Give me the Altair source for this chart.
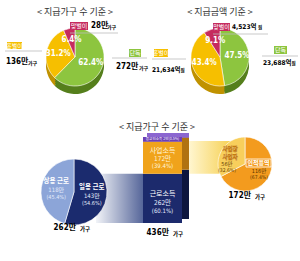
import altair as alt
import pandas as pd

KR = "Noto Sans CJK KR"
NUM = "'DejaVu Sans Condensed', 'Noto Sans CJK KR'"

# ---- data ----
hh_types = ["단독", "홑벌이", "맞벌이"]
hh_pct = [62.4, 31.2, 6.4]          # 지급가구 수 기준 (%)
hh_count = [272, 136, 28]           # 만 가구

amt_pct = [47.5, 43.4, 9.1]         # 지급금액 기준 (%)
amt_value = ["23,688", "21,634", "4,523"]  # 억원

inc_types = ["근로소득", "사업소득", "종교인소득"]
inc_count = [262, 172, 2]           # 만 가구
inc_pct = [60.1, 39.4, 0.5]
inc_total = 436

work_types = ["일용 근로", "상용 근로"]
work_count = [143, 118]
work_pct = [54.6, 45.4]
work_total = 262

biz_types = ["인적용역", "사업장 사업자"]
biz_count = [116, 56]
biz_pct = [67.4, 32.6]
biz_total = 172

# ---- styles ----
cat_domain = hh_types + inc_types + work_types + biz_types
top_range = ["#8DC53F", "#F6BF00", "#C52B5E", "#1C2A6C", "#F0A31B", "#6C40B6",
             "#1B2B6E", "#8CA5D8", "#F39B1E", "#F8CF5C"]
side_range = ["#557F1C", "#C09200", "#86183E", "#0D163E", "#B07210", "#4A2890",
              "#101A50", "#6077A8", "#C07010", "#C9A030"]
color = alt.Color("cat:N", scale=alt.Scale(domain=cat_domain, range=top_range), legend=None)
fill_dark = alt.Fill("cat:N", scale=alt.Scale(domain=cat_domain, range=side_range), legend=None)
theta = alt.Theta("pct:Q", stack=True, scale=alt.Scale(domain=[0, 100]))


def pie_df(cats, pcts, extra=None):
    d = {"cat": cats, "pct": pcts, "i": list(range(len(cats))),
         "lab": [f"{p}%" for p in pcts]}
    if extra:
        d.update(extra)
    return pd.DataFrame(d)


def pie_layers(df, cx, cy, r, depth=0, stroke="white"):
    base = alt.Chart(df).encode(theta=theta, order=alt.Order("i:Q"))
    layers = []
    for dpt in (range(depth, 0, -2) if depth else []):
        layers.append(base.mark_arc(outerRadius=r).encode(
            fill=fill_dark, x=alt.value(cx), y=alt.value(cy + dpt)))
    layers.append(base.mark_arc(outerRadius=r, stroke=stroke, strokeWidth=0.6).encode(
        color=color, x=alt.value(cx), y=alt.value(cy)))
    return base, layers


def txt(s, x, y, size=7, color_="black", weight="normal", align="center", font=KR, **kw):
    return alt.Chart(pd.DataFrame({"t": [s]})).mark_text(
        font=font, fontSize=size, color=color_, fontWeight=weight, align=align,
        baseline="middle", **kw).encode(x=alt.value(x), y=alt.value(y), text="t:N")


def box(cat, x1, x2, y1, y2, **kw):
    return alt.Chart(pd.DataFrame({"cat": [cat]})).mark_rect(**kw).encode(
        x=alt.value(x1), x2=alt.value(x2), y=alt.value(y1), y2=alt.value(y2), color=color)


def rule(x1, x2, y):
    return alt.Chart(pd.DataFrame({"a": [0]})).mark_rule(color="#BBBBBB", strokeWidth=0.8).encode(
        x=alt.value(x1), x2=alt.value(x2), y=alt.value(y))


layers = []

# ---- top-left pie: households ----
df1 = pie_df(hh_types, hh_pct)
b1, l1 = pie_layers(df1, 75, 57, 29, depth=8)
layers += l1
layers.append(b1.mark_text(radius=17, font=NUM, fontSize=8, fontWeight="bold", color="white").encode(
    text="lab:N", x=alt.value(75), y=alt.value(57)))
layers.append(txt("< 지급가구 수 기준 >", 75, 12, size=9, color_="#333333"))
layers += [rule(70, 118, 33), box(hh_types[2], 70, 88, 22, 30), txt(hh_types[2], 79, 26, 6, "white"),
           txt(f"{hh_count[2]}만", 91, 26, 8, "black", "bold", "left", NUM), txt("가구", 107, 27, 5, "black", "bold", "left")]
layers += [rule(5, 42, 51), box(hh_types[1], 7, 22, 42, 49), txt(hh_types[1], 14.5, 45.5, 6, "white"),
           txt(f"{hh_count[1]}만", 6, 62, 8, "black", "bold", "left", NUM), txt("가구", 28, 63, 5, "black", "bold", "left")]
layers += [rule(112, 147, 58), box(hh_types[0], 129, 141, 49, 57), txt(hh_types[0], 135, 53, 6, "white"),
           txt(f"{hh_count[0]}만", 116, 67, 8, "black", "bold", "left", NUM), txt("가구", 139, 68, 5, "black", "bold", "left")]

# ---- top-right pie: amount ----
df2 = pie_df(hh_types, amt_pct)
b2, l2 = pie_layers(df2, 220, 57, 29, depth=8)
layers += l2
layers.append(b2.mark_text(radius=17, font=NUM, fontSize=8, fontWeight="bold", color="white").encode(
    text="lab:N", x=alt.value(220), y=alt.value(57)))
layers.append(txt("< 지급금액 기준 >", 220, 12, size=9, color_="#333333"))
layers += [rule(213, 268, 34), box(hh_types[2], 213, 230, 23, 31), txt(hh_types[2], 221.5, 27, 6, "white"),
           txt(f"{amt_value[2]}억", 232, 27, 6.5, "black", "bold", "left", NUM), txt("원", 258, 28, 4.5, "black", "bold", "left")]
layers += [rule(152, 186, 59), box(hh_types[1], 154, 168, 49, 57), txt(hh_types[1], 161, 53, 6, "white"),
           txt(f"{amt_value[1]}억", 152, 70, 6.5, "black", "bold", "left", NUM), txt("원", 180.5, 71, 4.5, "black", "bold", "left")]
layers += [rule(262, 298, 56), box(hh_types[0], 274, 287, 46, 54), txt(hh_types[0], 280.5, 50, 6, "white"),
           txt(f"{amt_value[0]}억", 263, 63, 6.5, "black", "bold", "left", NUM), txt("원", 291.5, 64, 4.5, "black", "bold", "left")]

# ---- bottom: title ----
layers.append(txt("< 지급가구 수 기준 >", 157, 127, size=9, color_="#333333"))

yscale = alt.Scale(domain=[0, inc_total], range=[223, 141])

# connectors
grad_l = alt.LinearGradient(gradient="linear", x1=0, x2=1, y1=0, y2=0,
                            stops=[alt.GradientStop(color="#F2F4F8", offset=0),
                                   alt.GradientStop(color="#56669A", offset=1)])
grad_r = alt.LinearGradient(gradient="linear", x1=0, x2=1, y1=0, y2=0,
                            stops=[alt.GradientStop(color="#FFF6D0", offset=0),
                                   alt.GradientStop(color="#F5CC45", offset=1)])
cdf = pd.DataFrame({"a": [0]})
layers.append(alt.Chart(cdf).mark_rect(color=grad_l).encode(
    x=alt.value(96), x2=alt.value(143),
    y=alt.Y(datum=0, scale=yscale, axis=None), y2=alt.Y2(datum=inc_count[0])))
layers.append(alt.Chart(cdf).mark_rect(color=grad_r).encode(
    x=alt.value(189), x2=alt.value(236),
    y=alt.Y(datum=inc_count[0], scale=yscale, axis=None), y2=alt.Y2(datum=inc_total)))

# stacked bar (start/end derived from the counts)
bar_df = pd.DataFrame({"cat": inc_types, "v": inc_count})
bar_df["end"] = bar_df["v"].cumsum()
bar_df["start"] = bar_df["end"] - bar_df["v"]
bb = alt.Chart(bar_df).encode(y=alt.Y("end:Q", scale=yscale, axis=None), y2=alt.Y2("start:Q"))
is_rel = alt.datum.cat == inc_types[2]
layers.append(bb.mark_rect(yOffset=-4, y2Offset=-4).encode(fill=fill_dark, x=alt.value(182), x2=alt.value(189)))
layers.append(bb.mark_rect(yOffset=-8, y2Offset=-4, color="#8B66D0").transform_filter(is_rel).encode(
    x=alt.value(147), x2=alt.value(189)))
layers.append(bb.mark_rect().encode(color=color, x=alt.value(143), x2=alt.value(182)))
layers.append(bb.mark_rect(yOffset=-4).transform_filter(is_rel).encode(
    color=color, x=alt.value(143), x2=alt.value(182)))
layers.append(txt(f"{inc_types[2]} {inc_count[2]}만({inc_pct[2]}%)", 162.5, 139, 3.6, "white"))
layers += [txt(inc_types[1], 162.5, 151, 7, "#FFF4D8"), txt(f"{inc_count[1]}만", 162.5, 159, 6.5, "#FFF4D8", font=NUM),
           txt(f"({inc_pct[1]}%)", 162.5, 166, 6, "#FFF4D8", font=NUM)]
layers += [txt(inc_types[0], 162.5, 194, 7, "white"), txt(f"{inc_count[0]}만", 162.5, 203, 6.5, "#E6ECFF", font=NUM),
           txt(f"({inc_pct[0]}%)", 162.5, 211, 6, "#E6ECFF", font=NUM)]
layers += [txt(f"{inc_total}만", 169, 233, 8, "black", "bold", "right", NUM), txt("가구", 173, 234, 5.5, "black", "bold", "left")]

# left pie: 근로소득 breakdown
df3 = pie_df(work_types, work_pct, {"cnt": [f"{c}만" for c in work_count],
                                     "pl": [f"({p}%)" for p in work_pct]})
b3, l3 = pie_layers(df3, 74, 192, 33, stroke="#FFFFFF")
layers += l3
xy3 = dict(x=alt.value(74), y=alt.value(192))
layers.append(b3.mark_text(radius=18, dy=-8, font=KR, fontSize=6.5, fontWeight="bold", color="white").encode(text="cat:N", **xy3))
layers.append(b3.mark_text(radius=18, dy=1, font=NUM, fontSize=6, color="#E3EAFA").encode(text="cnt:N", **xy3))
layers.append(b3.mark_text(radius=18, dy=8, font=NUM, fontSize=5.5, color="#E3EAFA").encode(text="pl:N", **xy3))
layers += [txt(f"{work_total}만", 76, 228, 8, "black", "bold", "right", NUM), txt("가구", 80, 229, 5.5, "black", "bold", "left")]

# right pie: 사업소득 breakdown
df4 = pie_df(biz_types, biz_pct)
b4, l4 = pie_layers(df4, 245, 164, 27, stroke="#FFFFFF")
layers += l4
nm = biz_types[1].split(" ")
layers += [txt(nm[0], 230, 148.5, 5.5, "white", "bold", stroke="#C47A10", strokeWidth=0.6),
           txt(nm[1], 230, 156.5, 5.5, "white", "bold", stroke="#C47A10", strokeWidth=0.6),
           txt(f"{biz_count[1]}만", 227, 164, 5.5, "#6A4000", font=NUM),
           txt(f"({biz_pct[1]}%)", 227, 170, 5, "#6A4000", font=NUM)]
layers += [box(biz_types[0], 246, 271, 159, 167, stroke="white", strokeWidth=0.8),
           txt(biz_types[0], 258.5, 163, 6, "white", "bold"),
           txt(f"{biz_count[0]}만", 259, 170.5, 5.5, "#5A3500", font=NUM),
           txt(f"({biz_pct[0]}%)", 259, 176.5, 5, "#5A3500", font=NUM)]
layers += [txt(f"{biz_total}만", 251, 196, 8, "black", "bold", "right", NUM), txt("가구", 255, 197, 5.5, "black", "bold", "left")]

chart = alt.layer(*layers).properties(
    width=300, height=261, autosize=alt.AutoSizeParams(type="none"), padding=0,
    background="white"
).configure_view(stroke=None)

chart.save("out.html", embed_options={"renderer": "svg", "actions": False})
